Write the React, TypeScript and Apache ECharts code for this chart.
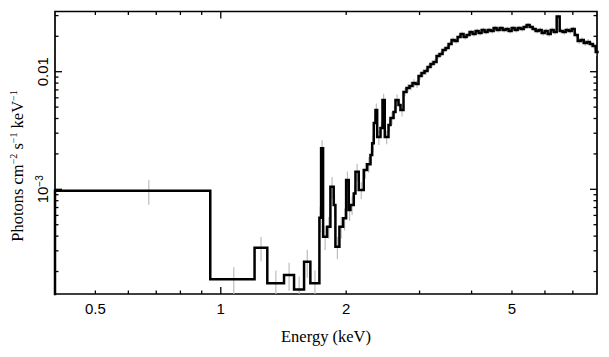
import React, { useEffect, useRef } from 'react';
import * as echarts from 'echarts';

const X_MIN = 0.4;
const X_MAX = 8;
const Y_MIN = 1.288e-4;
const Y_MAX = 0.0325;

const xTickLabelValues = [0.5, 1, 2, 5];
const xTickLabelTexts = ['0.5', '1', '2', '5'];
const xMajorTicks = [1];
const xMinorTicks = [0.5, 0.6, 0.7, 0.8, 0.9, 2, 3, 4, 5, 6, 7];
const yTickLabelValues = [0.001, 0.01];
const yTickLabelTexts = ['10{sup|−3}', '0.01'];
const yMajorTicks = [0.001, 0.01];
const yMinorTicks = [2e-4, 3e-4, 4e-4, 5e-4, 6e-4, 7e-4, 8e-4, 9e-4, 2e-3, 3e-3, 4e-3, 5e-3, 6e-3, 7e-3, 8e-3, 9e-3, 0.02, 0.03];

const xTitle = 'Energy (keV)';
const yTitle = 'Photons cm{sup|−2} s{sup|−1} keV{sup|−1}';

// bin edges (keV)
const binEdges = [
  0.4, 0.9436, 1.2053, 1.2932, 1.4185, 1.4993, 1.5846, 1.6408, 1.7247, 1.741,
  1.7604, 1.7998, 1.8329, 1.8667, 1.8843, 1.9265, 1.9664, 1.9993, 2.0284, 2.0476,
  2.0853, 2.105, 2.1438, 2.204, 2.2459, 2.2873, 2.3089, 2.3294, 2.3514, 2.3737,
  2.4174, 2.4443, 2.4756, 2.5269, 2.555, 2.5978, 2.6267, 2.6707, 2.7004, 2.7457,
  2.7917, 2.8384, 2.8859, 2.9342, 2.9833, 3.0332, 3.084, 3.1356, 3.1881, 3.2415,
  3.2957, 3.3509, 3.407, 3.464, 3.522, 3.5809, 3.6408, 3.7018, 3.7637, 3.8267,
  3.8908, 3.9559, 4.0221, 4.0894, 4.1579, 4.2275, 4.2982, 4.3702, 4.4433, 4.5177,
  4.5933, 4.6702, 4.7484, 4.8278, 4.9086, 4.9908, 5.0743, 5.1593, 5.2456, 5.3334,
  5.4227, 5.5135, 5.6058, 5.6996, 5.795, 5.892, 5.9906, 6.0909, 6.1929, 6.2965,
  6.4019, 6.5091, 6.618, 6.7288, 6.8414, 6.9559, 7.0724, 7.1907, 7.3111, 7.4335,
  7.5579, 7.6844, 7.813, 7.9438, 8.0768,
];

// photons cm^-2 s^-1 keV^-1
const flux = [
  9.7e-4, 1.72e-4, 3.19e-4, 1.59e-4, 1.87e-4, 1.41e-4, 2.42e-4, 1.59e-4, 5.73e-4, 2.23e-3,
  3.95e-4, 4.81e-4, 1.05e-3, 7.35e-4, 3.25e-4, 4.81e-4, 5.67e-4, 1.2e-3, 6.67e-4, 7.35e-4,
  9.2e-4, 1.41e-3, 9.86e-4, 1.46e-3, 1.63e-3, 1.96e-3, 2.47e-3, 3.66e-3, 4.72e-3, 2.78e-3,
  3.32e-3, 5.75e-3, 2.78e-3, 3.52e-3, 4.04e-3, 4.54e-3, 5.75e-3, 5.21e-3, 4.72e-3,
  0.00672, 0.00727, 0.00756, 0.00801, 0.00786, 0.00919, 0.00975, 0.01014, 0.01096, 0.01163,
  0.01209, 0.0136, 0.01414, 0.01529, 0.0159, 0.0172, 0.0186, 0.01824, 0.01972, 0.02092,
  0.01972, 0.02051, 0.02175, 0.02092, 0.02218, 0.02133, 0.02262, 0.02175, 0.02262, 0.02218,
  0.02353, 0.02262, 0.02353, 0.02262, 0.02307, 0.02218, 0.02353, 0.02262, 0.02353, 0.02307,
  0.02399, 0.02495, 0.02399, 0.02307, 0.02218, 0.02262, 0.02133, 0.02218, 0.02092, 0.02262,
  0.02175, 0.0294, 0.02218, 0.02175, 0.02262, 0.02218, 0.02307, 0.02051, 0.01824, 0.0186,
  0.01754, 0.01789, 0.0172, 0.01654, 0.01471,
];

const fluxErr = [
  2.3e-4, 4.5e-5, 7.5e-5, 4.5e-5, 5e-5, 4e-5, 6.5e-5, 4.5e-5, 1.4e-4, 3.8e-4,
  9e-5, 1e-4, 2.2e-4, 1.6e-4, 7e-5, 1e-4, 1.2e-4, 2.2e-4, 1.3e-4, 1.3e-4,
  1.6e-4, 2.4e-4, 1.6e-4, 2.3e-4, 2.5e-4, 3.3e-4, 3.8e-4, 5e-4, 6.5e-4, 4e-4,
  4.5e-4, 7.5e-4, 3.6e-4, 4.5e-4, 5e-4, 5.5e-4, 6.5e-4, 6e-4, 5.5e-4,
  5.5e-4, 5.8e-4, 6e-4, 6.2e-4, 6e-4, 6.6e-4, 6.8e-4, 7e-4, 7.2e-4, 7.4e-4,
  7.5e-4, 8e-4, 8.2e-4, 8.5e-4, 8.6e-4, 9e-4, 9.4e-4, 9.2e-4, 9.6e-4, 1e-3,
  9.6e-4, 9.8e-4, 1.02e-3, 1e-3, 1.03e-3, 1.01e-3, 1.05e-3, 1.03e-3, 1.05e-3, 1.04e-3,
  1.08e-3, 1.06e-3, 1.08e-3, 1.06e-3, 1.07e-3, 1.05e-3, 1.08e-3, 1.07e-3, 1.09e-3, 1.08e-3,
  1.1e-3, 1.12e-3, 1.1e-3, 1.09e-3, 1.08e-3, 1.1e-3, 1.07e-3, 1.09e-3, 1.06e-3, 1.1e-3,
  1.08e-3, 1.3e-3, 1.1e-3, 1.09e-3, 1.12e-3, 1.11e-3, 1.14e-3, 1.08e-3, 1.04e-3, 1.06e-3,
  1.03e-3, 1.05e-3, 1.04e-3, 1.03e-3, 1.1e-3,
];

const SANS = '"Liberation Sans", Arial, Helvetica, sans-serif';
const SERIF = '"Liberation Serif", "Times New Roman", serif';

export default function App() {
  const ref = useRef<HTMLDivElement>(null);

  useEffect(() => {
    if (!ref.current) return;
    const chart = echarts.init(ref.current, undefined, { renderer: 'svg' });

    const stepPoints: number[][] = [[binEdges[0], Y_MIN * 0.5]];
    for (let i = 0; i < flux.length; i++) {
      stepPoints.push([binEdges[i], flux[i]]);
      stepPoints.push([binEdges[i + 1], flux[i]]);
    }
    const errData = flux.map((v, i) => [
      (binEdges[i] + binEdges[i + 1]) / 2,
      v - fluxErr[i],
      v + fluxErr[i],
    ]);

    const xTickData = [
      ...xMajorTicks.map((v) => [v, Y_MIN, 1]),
      ...xMinorTicks.map((v) => [v, Y_MIN, 0]),
    ];
    const yTickData = [
      ...yMajorTicks.map((v) => [X_MIN, v, 1]),
      ...yMinorTicks.map((v) => [X_MIN, v, 0]),
    ];

    const tickStyle = { stroke: '#000', lineWidth: 1.3 };

    chart.setOption({
      animation: false,
      grid: {
        left: 55,
        right: 12,
        top: 11.5,
        bottom: 63,
        show: true,
        borderColor: '#000',
        borderWidth: 1.7,
        backgroundColor: 'transparent',
      },
      xAxis: {
        type: 'log',
        logBase: 10,
        min: X_MIN,
        max: X_MAX,
        axisLine: { show: false },
        axisTick: { show: false },
        axisLabel: { show: false },
        splitLine: { show: false },
        minorTick: { show: false },
      },
      yAxis: {
        type: 'log',
        logBase: 10,
        min: Y_MIN,
        max: Y_MAX,
        axisLine: { show: false },
        axisTick: { show: false },
        axisLabel: { show: false },
        splitLine: { show: false },
        minorTick: { show: false },
      },
      graphic: [
        {
          type: 'text',
          x: 326,
          y: 336,
          style: {
            text: xTitle,
            font: `16.5px ${SERIF}`,
            fill: '#000',
            align: 'center',
            verticalAlign: 'middle',
            textAlign: 'center',
            textVerticalAlign: 'middle',
          },
        },
        {
          type: 'text',
          x: 17,
          y: 166,
          rotation: Math.PI / 2,
          style: {
            text: yTitle,
            font: `16.5px ${SERIF}`,
            fill: '#000',
            align: 'center',
            verticalAlign: 'middle',
            textAlign: 'center',
            textVerticalAlign: 'middle',
            rich: {
              sup: {
                fontSize: 10,
                fontFamily: SERIF,
                fill: '#000',
                verticalAlign: 'top',
              },
            },
          },
        },
      ],
      series: [
        {
          type: 'custom',
          name: 'errors',
          z: 1,
          silent: true,
          clip: true,
          data: errData,
          encode: { x: 0, y: [1, 2] },
          renderItem: (params: any, api: any) => {
            const c = api.value(0);
            const p1 = api.coord([c, api.value(1)]);
            const p2 = api.coord([c, api.value(2)]);
            return {
              type: 'line',
              shape: { x1: p1[0], y1: p1[1], x2: p2[0], y2: p2[1] },
              style: { stroke: '#bdbdbd', lineWidth: 1.2 },
            };
          },
        },
        {
          type: 'line',
          name: 'spectrum',
          z: 2,
          silent: true,
          data: stepPoints,
          showSymbol: false,
          symbol: 'none',
          clip: true,
          lineStyle: { color: '#000', width: 2.5, join: 'miter', cap: 'butt' },
        },
        {
          type: 'custom',
          name: 'xticks',
          z: 3,
          silent: true,
          data: xTickData,
          encode: { x: 0, y: 1 },
          renderItem: (params: any, api: any) => {
            const cs = params.coordSys;
            const px = api.coord([api.value(0), Y_MIN])[0];
            const len = api.value(2) === 1 ? 7 : 3.5;
            const b = cs.y + cs.height;
            return {
              type: 'group',
              children: [
                { type: 'line', shape: { x1: px, y1: b, x2: px, y2: b - len }, style: tickStyle },
                { type: 'line', shape: { x1: px, y1: cs.y, x2: px, y2: cs.y + len }, style: tickStyle },
              ],
            };
          },
        },
        {
          type: 'custom',
          name: 'yticks',
          z: 3,
          silent: true,
          data: yTickData,
          encode: { x: 0, y: 1 },
          renderItem: (params: any, api: any) => {
            const cs = params.coordSys;
            const py = api.coord([X_MIN, api.value(1)])[1];
            const len = api.value(2) === 1 ? 7 : 3.5;
            const r = cs.x + cs.width;
            return {
              type: 'group',
              children: [
                { type: 'line', shape: { x1: cs.x, y1: py, x2: cs.x + len, y2: py }, style: tickStyle },
                { type: 'line', shape: { x1: r, y1: py, x2: r - len, y2: py }, style: tickStyle },
              ],
            };
          },
        },
        {
          type: 'custom',
          name: 'xlabels',
          z: 3,
          silent: true,
          data: xTickLabelValues.map((v) => [v, Y_MIN]),
          encode: { x: 0, y: 1 },
          renderItem: (params: any, api: any) => {
            const cs = params.coordSys;
            const px = api.coord([api.value(0), Y_MIN])[0];
            return {
              type: 'text',
              x: px,
              y: cs.y + cs.height + 14,
              style: {
                text: xTickLabelTexts[params.dataIndex],
                font: `15px ${SANS}`,
                fill: '#000',
                align: 'center',
                verticalAlign: 'middle',
              },
            };
          },
        },
        {
          type: 'custom',
          name: 'ylabels',
          z: 3,
          silent: true,
          data: yTickLabelValues.map((v) => [X_MIN, v]),
          encode: { x: 0, y: 1 },
          renderItem: (params: any, api: any) => {
            const cs = params.coordSys;
            const py = api.coord([X_MIN, api.value(1)])[1];
            return {
              type: 'text',
              x: cs.x - 13,
              y: py,
              rotation: Math.PI / 2,
              style: {
                text: yTickLabelTexts[params.dataIndex],
                font: `15px ${SANS}`,
                fill: '#000',
                align: 'center',
                verticalAlign: 'middle',
                rich: {
                  sup: {
                    fontSize: 10,
                    fontFamily: SANS,
                    fill: '#000',
                    verticalAlign: 'top',
                  },
                },
              },
            };
          },
        },
      ],
    });

    return () => {
      chart.dispose();
    };
  }, []);

  return (
    <div
      ref={ref}
      style={{ position: 'fixed', left: 0, top: 0, width: 609, height: 357, background: '#fff' }}
    />
  );
}
